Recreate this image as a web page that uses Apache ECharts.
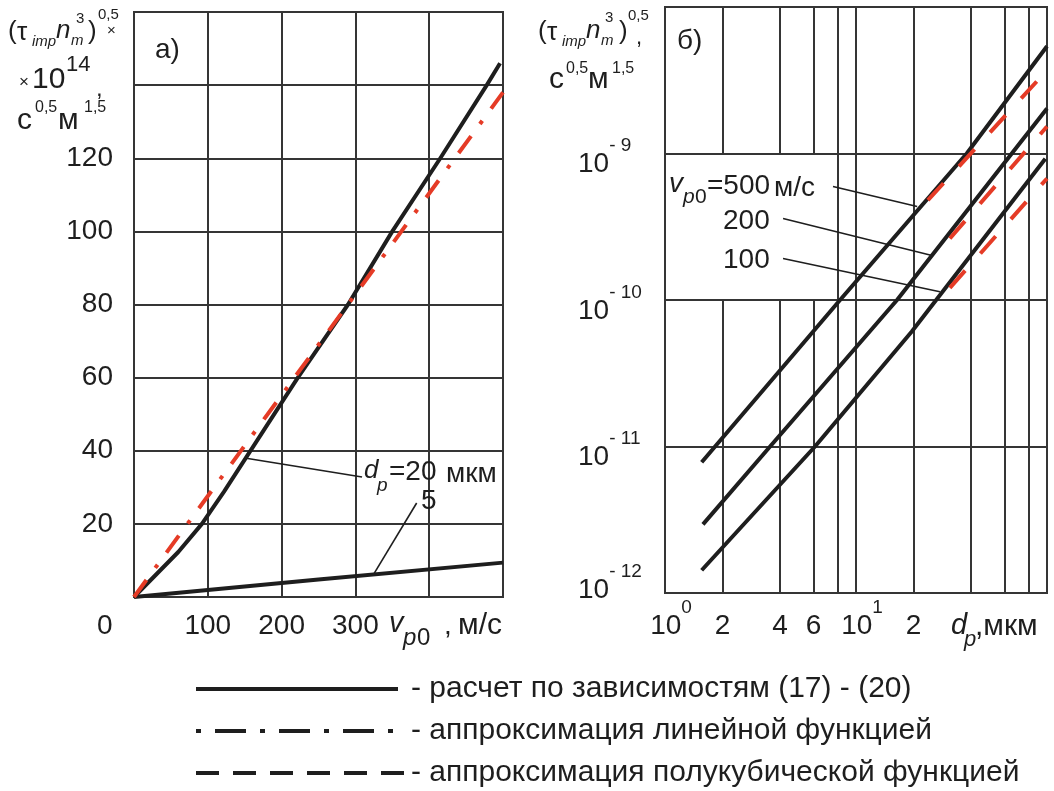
<!DOCTYPE html>
<html><head><meta charset="utf-8">
<script src="https://cdn.jsdelivr.net/npm/echarts@6/dist/echarts.min.js"></script>
<style>html,body{margin:0;padding:0;background:#fff}#c{width:1054px;height:791px}</style>
</head><body><div id="c"></div>
<script>
// ---------- Panel а: (τ_imp n_m^3)^0.5 ×10^14 vs v_p0, м/с ----------
const vA_dp20 = [0, 60, 92, 122, 154, 222, 290, 350, 415, 478, 496];
const yA_dp20 = [0, 12.3, 20, 28.8, 38.8, 60, 80, 100, 120, 140, 146];
const vA_dp5  = [0, 250, 500];
const yA_dp5  = [0, 4.8, 9.4];
const vA_lin  = [0, 500];
const yA_lin  = [0, 138];
const xTicksA = [100, 200, 300];
const yTicksA = [20, 40, 60, 80, 100, 120];
const leaderA_dp20 = [[150, 38], [309, 32.8]];
const leaderA_dp5  = [[324, 6.0], [383, 25.7]];

// ---------- Panel б: log-log, d_p (мкм) vs (τ_imp n_m^3)^0.5 ----------
const dB_500 = [1.556, 8.25, 38, 100];
const yB_500 = [7.8e-12, 1e-10, 1e-9, 5.4e-9];
const dB_200 = [1.58, 3.55, 16.4, 100];
const yB_200 = [2.94e-12, 1e-11, 1e-10, 2.03e-9];
const dB_100 = [1.556, 6.1, 19.6, 98];
const yB_100 = [1.43e-12, 1e-11, 6.1e-11, 9.2e-10];
const dB_500a = [23.8, 100];
const yB_500a = [4.8e-10, 3.7e-9];
const dB_200a = [31, 100];
const yB_200a = [2.63e-10, 1.53e-9];
const dB_100a = [31, 100];
const yB_100a = [1.21e-10, 6.75e-10];
const xLabelValuesB = [1, 2, 4, 6, 10, 20];
const xMinorFullB = [8, 20, 40, 60, 80];
const xMinorBrokenB = [2, 4, 6];
const leaderB_500 = [[7.58, 5.96e-10], [20.9, 4.35e-10]];
const leaderB_200 = [[4.15, 3.6e-10], [25, 2.01e-10]];
const leaderB_100 = [[4.15, 1.92e-10], [27.5, 1.14e-10]];

const S1 = 'расчет по зависимостям (17) - (20)';
const S2 = 'аппроксимация линейной функцией';
const S3 = 'аппроксимация полукубической функцией';

const FF = '"Liberation Sans", Arial, Helvetica, sans-serif';
const INK = '#1e1e1e';
const GRID = '#353535';
const RED = '#e53b26';

const zip = (a, b) => a.map((v, i) => [v, b[i]]);
const seg = (p, q) => [{coord: p}, {coord: q}];

function blackLine(name, xi, data) {
  return {type: 'line', name, xAxisIndex: xi, yAxisIndex: xi, data, symbol: 'none', z: 10,
    lineStyle: {color: INK, width: 4, join: 'round'}, silent: true};
}
function redLine(name, xi, data, dash) {
  return {type: 'line', name, xAxisIndex: xi, yAxisIndex: xi, data, symbol: 'none', z: 11,
    lineStyle: {color: RED, width: 4, type: dash}, silent: true};
}
function helper(xi, lines, style) {
  return {type: 'line', xAxisIndex: xi, yAxisIndex: xi, data: [], symbol: 'none', silent: true,
    markLine: {silent: true, symbol: ['none', 'none'], label: {show: false}, animation: false,
      lineStyle: style, emphasis: {disabled: true}, data: lines}};
}

function T(x, y, s, size, o) {
  return {type: 'text', x, y, silent: true, z: 20,
    style: Object.assign({text: s, fill: INK, fontSize: size, fontFamily: FF,
      textAlign: 'left', textVerticalAlign: 'middle', align: 'left', verticalAlign: 'middle'}, o || {})};
}
const IT = {fontStyle: 'italic'};

const graphics = [
  // panel а title
  T(8, 32, '(', 26), T(17, 33, 'τ', 26), T(32, 42, 'imp', 15, IT), T(56, 31, 'n', 26, IT),
  T(71, 41, 'm', 15, IT), T(76, 19, '3', 15), T(88, 32, ')', 26), T(98, 15, '0,5', 15), T(107, 31, '×', 15),
  T(19, 82, '×', 17), T(32, 80, '10', 30), T(66, 65, '14', 22), T(96, 89, ',', 24),
  T(17, 121, 'с', 30), T(35, 108, '0,5', 16), T(58, 121, 'м', 30), T(84, 108, '1,5', 16),
  // panel б title
  T(538, 32, '(', 26), T(547, 33, 'τ', 26), T(562, 42, 'imp', 15, IT), T(586, 31, 'n', 26, IT),
  T(601, 41, 'm', 15, IT), T(605, 18, '3', 15), T(619, 32, ')', 26), T(628, 16, '0,5', 15), T(636, 38, ',', 22),
  T(549, 80, 'с', 30), T(566, 69, '0,5', 16), T(588, 80, 'м', 30), T(612, 69, '1,5', 16),
  // panel labels
  T(155, 50, 'а)', 28), T(677, 41, 'б)', 28),
  // panel а axis extras
  T(97, 626, '0', 28),
  T(389, 624, 'v', 29, IT), T(403, 638, 'p', 24, IT), T(417, 638, '0', 24), T(444, 626, ',', 28), T(458, 626, 'м/с', 30),
  // panel б axis name
  T(951, 626, 'd', 29, IT), T(964, 640, 'p', 22, IT), T(975, 627, ',мкм', 30),
  // panel а annotations
  T(364, 471, 'd', 26, IT), T(377, 486, 'p', 19, IT), T(389, 472, '=20', 28), T(446, 474, 'мкм', 28),
  T(421, 501, '5', 28),
  // panel б annotations
  T(669, 184, 'v', 28, IT), T(683, 197, 'p', 21, IT), T(695, 197, '0', 21), T(707, 186, '=500', 28), T(774, 188, 'м/с', 28),
  T(723, 221, '200', 28), T(723, 260, '100', 28),
  // legend
  {type: 'line', silent: true, shape: {x1: 196, y1: 689, x2: 398, y2: 689}, style: {stroke: INK, lineWidth: 4}},
  {type: 'line', silent: true, shape: {x1: 196, y1: 731, x2: 405, y2: 731}, style: {stroke: INK, lineWidth: 4, lineDash: [31, 14, 5, 14], lineDashOffset: 45}},
  {type: 'line', silent: true, shape: {x1: 196, y1: 773, x2: 405, y2: 773}, style: {stroke: INK, lineWidth: 4, lineDash: [23, 14]}},
  T(411, 689, '- ' + S1, 30), T(411, 731, '- ' + S2, 30), T(411, 773, '- ' + S3, 30)
];

const richB = {fontSize: 28, lineHeight: 56, verticalAlign: 'middle', fontFamily: FF, color: INK};
const richS = {fontSize: 19, lineHeight: 20, verticalAlign: 'top', fontFamily: FF, color: INK};

const option = {
  animation: false,
  backgroundColor: '#fff',
  textStyle: {fontFamily: FF},
  grid: [
    {left: 134, top: 12, width: 369, height: 585, show: true, borderColor: GRID, borderWidth: 2, backgroundColor: 'transparent'},
    {left: 665, top: 7, width: 382, height: 586, show: true, borderColor: GRID, borderWidth: 2, backgroundColor: 'transparent'}
  ],
  xAxis: [
    {type: 'value', gridIndex: 0, min: 0, max: 500, interval: 100,
      axisLine: {show: false}, axisTick: {show: false},
      splitLine: {show: true, lineStyle: {color: GRID, width: 2}},
      axisLabel: {fontSize: 28, color: INK, margin: 15, fontFamily: FF,
        formatter: v => xTicksA.indexOf(v) >= 0 ? String(v) : ''}},
    {type: 'log', logBase: 10, gridIndex: 1, min: 1, max: 100,
      axisLine: {show: false}, axisTick: {show: false},
      splitLine: {show: true, lineStyle: {color: GRID, width: 2}},
      axisLabel: {customValues: xLabelValuesB, margin: 5, fontFamily: FF, color: INK,
        formatter: v => {
          if (Math.abs(v - 1) < 1e-9) return '{p|10}{s|0}';
          if (Math.abs(v - 10) < 1e-9) return '{p|10}{s|1}';
          if (v >= 99) return '';
          return '{b|' + (v >= 10 ? Math.round(v / 10) : v) + '}';
        },
        rich: {b: richB, p: Object.assign({}, richB, {padding: [0, 0, 0, 12]}), s: richS}}}
  ],
  yAxis: [
    {type: 'value', gridIndex: 0, min: 0, max: 160, interval: 20,
      axisLine: {show: false}, axisTick: {show: false},
      splitLine: {show: true, lineStyle: {color: GRID, width: 2}},
      axisLabel: {fontSize: 28, color: INK, margin: 21, fontFamily: FF,
        formatter: v => yTicksA.indexOf(v) >= 0 ? String(v) : ''}},
    {type: 'log', logBase: 10, gridIndex: 1, min: 1e-12, max: 1e-8,
      axisLine: {show: false}, axisTick: {show: false},
      splitLine: {show: true, lineStyle: {color: GRID, width: 2}},
      axisLabel: {align: 'left', margin: 87, padding: [22, 0, 0, 0], fontFamily: FF, color: INK,
        formatter: v => {
          const e = Math.round(Math.log10(v));
          if (e > -9) return '';
          let s = '{b|10}{s|- ' + (-e) + '}';
          if (e === -12) s += '\n{g| }';
          return s;
        },
        rich: {b: richB, s: richS, g: {fontSize: 10, lineHeight: 28}}}}
  ],
  series: [
    helper(0, [seg(leaderA_dp20[0], leaderA_dp20[1]), seg(leaderA_dp5[0], leaderA_dp5[1])],
      {color: INK, width: 1.6, type: 'solid'}),
    blackLine(S1, 0, zip(vA_dp20, yA_dp20)),
    blackLine(S1, 0, zip(vA_dp5, yA_dp5)),
    redLine(S2, 0, zip(vA_lin, yA_lin), [21, 15, 4, 15]),
    helper(1, xMinorFullB.map(v => ({xAxis: v}))
      .concat(xMinorBrokenB.map(v => seg([v, 1e-12], [v, 1e-10])))
      .concat(xMinorBrokenB.map(v => seg([v, 1e-9], [v, 1e-8]))),
      {color: GRID, width: 2, type: 'solid'}),
    helper(1, [seg(leaderB_500[0], leaderB_500[1]), seg(leaderB_200[0], leaderB_200[1]), seg(leaderB_100[0], leaderB_100[1])],
      {color: INK, width: 1.6, type: 'solid'}),
    blackLine(S1, 1, zip(dB_500, yB_500)),
    blackLine(S1, 1, zip(dB_200, yB_200)),
    blackLine(S1, 1, zip(dB_100, yB_100)),
    redLine(S3, 1, zip(dB_500a, yB_500a), [23, 23]),
    redLine(S3, 1, zip(dB_200a, yB_200a), [23, 23]),
    redLine(S3, 1, zip(dB_100a, yB_100a), [23, 23])
  ],
  graphic: graphics
};

const chart = echarts.init(document.getElementById('c'), null, {renderer: 'canvas'});
chart.setOption(option);
</script></body></html>
